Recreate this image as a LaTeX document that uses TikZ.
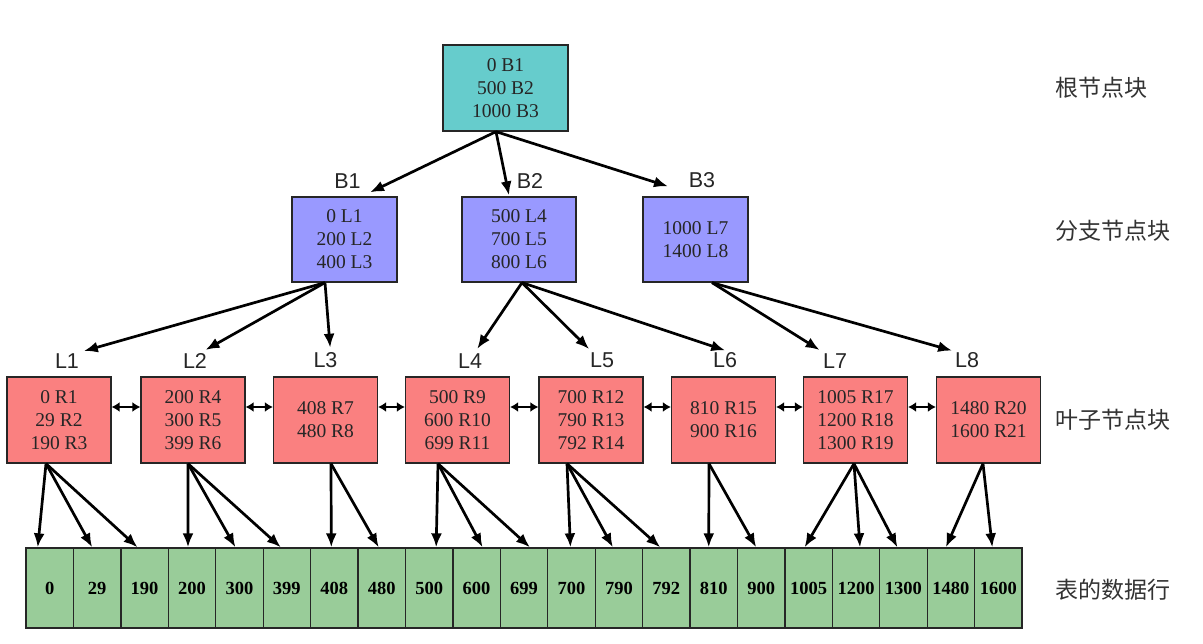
\documentclass[tikz,border=0pt]{standalone}
\usepackage{fontspec}
\setmainfont{Liberation Serif}
\setsansfont{Liberation Sans}
\newfontfamily\cjk{Noto Sans CJK SC}
\usetikzlibrary{positioning,arrows.meta}
\definecolor{rootcol}{RGB}{102,204,204}
\definecolor{branchcol}{RGB}{153,153,255}
\definecolor{leafcol}{RGB}{250,128,128}
\definecolor{rowcol}{RGB}{153,204,153}

\begin{document}
\begin{tikzpicture}[x=1pt,y=-1pt,
    box/.style={draw=black!85,line width=1.3pt,align=center,inner sep=0pt,
      minimum height=86pt,font=\fontsize{19.5}{23}\selectfont,text=black!85},
    root node/.style={box,fill=rootcol,minimum width=125pt},
    branch node/.style={box,fill=branchcol,minimum width=105pt,minimum height=85pt},
    leaf node/.style={box,fill=leafcol,minimum width=104pt},
    row cell/.style={draw=black!85,line width=1.3pt,fill=rowcol,minimum width=47.43pt,
      minimum height=80pt,inner sep=0pt,font=\fontsize{18.5}{20}\selectfont\bfseries},
    tag/.style={font=\sffamily\fontsize{21.5}{24}\selectfont,inner sep=1pt,text=black!85},
    side/.style={font=\cjk\fontsize{23}{26}\selectfont,anchor=west,text=black!80},
    ptr/.style={line width=2.7pt,-{Latex[length=14pt,width=11pt]}},
    link/.style={line width=2.5pt,{Latex[length=8pt,width=10pt]}-{Latex[length=8pt,width=10pt]}}]
  \fill[white] (0,0) rectangle (1203,644);

  % root block
  \node[root node] (root) at (505.5,88) {0 B1\\500 B2\\1000 B3};

  % branch blocks
  \node[branch node] (B1) at (344.5,239.5) {0 L1\\200 L2\\400 L3};
  \node[branch node,minimum width=114pt] (B2) at (519,239.5) {500 L4\\700 L5\\800 L6};
  \node[branch node] (B3) at (695.5,239.5) {1000 L7\\1400 L8};
  \node[tag,above=7pt of B1,xshift=3pt] (tB1) {B1};
  \node[tag,above=7pt of B2,xshift=11pt] (tB2) {B2};
  \node[tag,above=7pt of B3,xshift=6.5pt] (tB3) {B3};

  % leaf blocks
  \node[leaf node] (L1) at (59,420) {0 R1\\29 R2\\190 R3};
  \node[leaf node] (L2) at (193,420) {200 R4\\300 R5\\399 R6};
  \node[leaf node] (L3) at (325.5,420) {408 R7\\480 R8};
  \node[leaf node] (L4) at (457.5,420) {500 R9\\600 R10\\699 R11};
  \node[leaf node] (L5) at (591,420) {700 R12\\790 R13\\792 R14};
  \node[leaf node] (L6) at (723.5,420) {810 R15\\900 R16};
  \node[leaf node] (L7) at (855.5,420) {1005 R17\\1200 R18\\1300 R19};
  \node[leaf node] (L8) at (988.5,420) {1480 R20\\1600 R21};
  \foreach \n/\s in {1/8,2/2,3/0,4/12.5,5/11,6/1.5,7/-20.5,8/-21.5}
    \node[tag,above=7pt of L\n,xshift=\s pt] (tL\n) {L\n};

  % table rows
  \foreach \v [count=\i] in {0,29,190,200,300,399,408,480,500,600,699,700,790,792,810,900,1005,1200,1300,1480,1600}
    \node[row cell] (c\i) at ({26+47.43*(\i-0.5)},588) {\v};

  % side captions
  \node[side] (s1) at (1052,88) {根节点块};
  \node[side] (s2) at (1052,231) {分支节点块};
  \node[side] (s3) at (1052,420) {叶子节点块};
  \node[side] (s4) at (1052,590) {表的数据行};

  % root -> branch
  \draw[ptr] ([xshift=-9.5pt]root.south) -- ([xshift=25.5pt,yshift=4pt]B1.north);
  \draw[ptr] ([xshift=-9.5pt]root.south) -- ([xshift=-10pt,yshift=1pt]B2.north);
  \draw[ptr] ([xshift=-9.5pt]root.south) -- ([xshift=-27.5pt,yshift=10pt]B3.north);

  % branch -> leaf
  \foreach \b/\bx/\l/\lx in {1/-19.5/1/13,1/-19.5/2/7,1/-19.5/3/5,
                           2/3/4/5,2/3/5/-10,2/3/6/4,
                           3/16.5/7/-12,3/16.5/8/-11}
    \draw[ptr,shorten >=4pt] ([xshift=\bx pt]B\b.south) -- ([xshift=\lx pt]tL\l.north);

  % leaf <-> leaf
  \foreach \a/\b in {1/2,2/3,3/4,4/5,5/6,6/7,7/8}
    \draw[link] ([yshift=13pt]L\a.east) -- ([yshift=13pt]L\b.west);

  % leaf -> rows
  \foreach \l/\dx/\c/\ex in {1/-13/1/-12,1/-13/2/-5,1/-13/3/-7,
                            2/-5/4/-4,2/-5/5/-4,2/-5/6/-6,
                            3/5.5/7/-3,3/5.5/8/-3,
                            4/-19.5/9/7,4/-19.5/10/6,4/-19.5/11/6,
                            5/-24/12/-1,5/-24/13/-6,5/-24/14/-6,
                            6/-14.5/15/-5,6/-14.5/16/-5,
                            7/-1.5/17/-4,7/-1.5/18/4,7/-1.5/19/-6,
                            8/-5.5/20/-5,8/-5.5/21/-6}
    \draw[ptr] ([xshift=\dx pt]L\l.south) -- ([xshift=\ex pt]c\c.north);
\end{tikzpicture}
\end{document}
